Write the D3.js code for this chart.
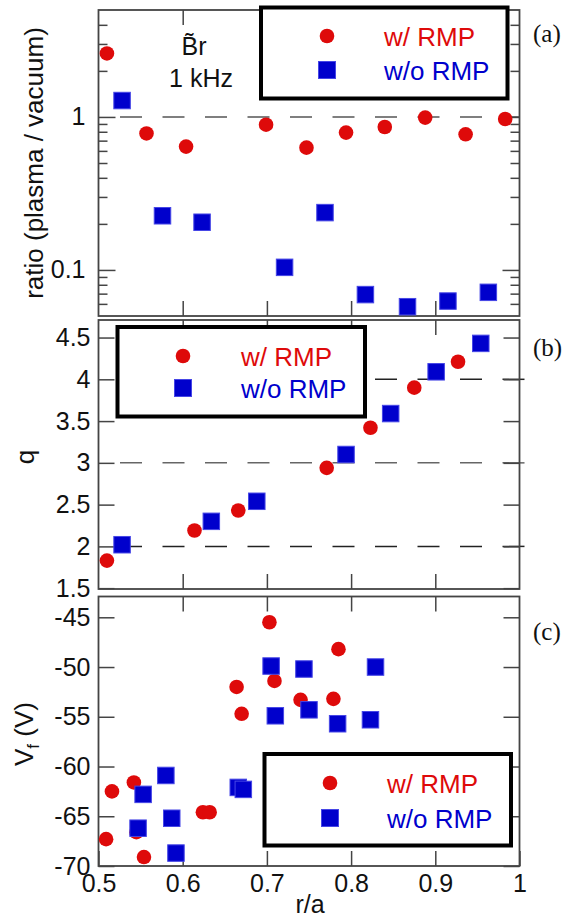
<!DOCTYPE html>
<html>
<head>
<meta charset="utf-8">
<script src="https://cdn.jsdelivr.net/npm/d3@7.9.0/dist/d3.min.js"></script>
<style>
  body { margin: 0; background: #fff; }
  svg { display: block; font-family: "Liberation Sans", Arial, sans-serif; }
</style>
</head>
<body>
<div id="chart"></div>
<script>
// ---- data ----
// (a) Br ratio plasma/vacuum at 1 kHz
const ratioRmpX   = [0.510, 0.557, 0.604, 0.699, 0.747, 0.794, 0.840, 0.888, 0.936, 0.983];
const ratioRmpY   = [2.6, 0.78, 0.64, 0.89, 0.63, 0.79, 0.86, 0.99, 0.77, 0.97];
const ratioNoRmpX = [0.528, 0.576, 0.623, 0.721, 0.769, 0.817, 0.867, 0.915, 0.963];
const ratioNoRmpY = [1.28, 0.226, 0.205, 0.104, 0.237, 0.069, 0.0575, 0.0626, 0.0714];

// (b) safety factor q
const qRmpX   = [0.510, 0.614, 0.666, 0.771, 0.823, 0.875, 0.927];
const qRmpY   = [1.83, 2.19, 2.43, 2.94, 3.42, 3.90, 4.21];
const qNoRmpX = [0.528, 0.634, 0.688, 0.794, 0.847, 0.901, 0.954];
const qNoRmpY = [2.02, 2.30, 2.54, 3.10, 3.59, 4.09, 4.43];

// (c) floating potential Vf
const vfRmpX   = [0.509, 0.516, 0.542, 0.545, 0.554, 0.624, 0.632, 0.664, 0.670, 0.703, 0.709, 0.740, 0.779, 0.785];
const vfRmpY   = [-67.3, -62.5, -61.6, -66.6, -69.1, -64.6, -64.6, -52.0, -54.7, -45.5, -51.4, -53.3, -53.2, -48.2];
const vfNoRmpX = [0.547, 0.553, 0.580, 0.587, 0.592, 0.666, 0.672, 0.705, 0.710, 0.744, 0.750, 0.784, 0.823, 0.829];
const vfNoRmpY = [-66.2, -62.8, -60.9, -65.2, -68.7, -62.1, -62.3, -49.9, -54.9, -50.2, -54.3, -55.7, -55.3, -50.0];

const xTicks = [0.5, 0.6, 0.7, 0.8, 0.9, 1];
const ratioMajor = [0.1, 1];
const ratioMinor = [0.06, 0.07, 0.08, 0.09, 0.2, 0.3, 0.4, 0.5, 0.6, 0.7, 0.8, 0.9, 2, 3, 4];
const qTicks = [1.5, 2, 2.5, 3, 3.5, 4, 4.5];
const qDashed = [2, 3, 4];
const vfTicks = [-70, -65, -60, -55, -50, -45];

const RED = '#de0a0a';
const BLUE = '#0000cc';
const AXIS = '#444';

const width = 572, height = 919;
const svg = d3.select('#chart').append('svg')
  .attr('width', width).attr('height', height);

const x = d3.scaleLinear().domain([0.5, 1]).range([98.5, 519.5]);

const panels = [
  { key: 'a', top: 10, bottom: 316, y: d3.scaleLog().domain([0.05, 5]).range([316, 10]) },
  { key: 'b', top: 320, bottom: 589, y: d3.scaleLinear().domain([1.49, 4.71]).range([589, 320]) },
  { key: 'c', top: 596.5, bottom: 866, y: d3.scaleLinear().domain([-70, -42.91]).range([866, 596.5]) },
];

// plain hyphen minus like the original, not the unicode minus
const fmt = d => String(d);

function styleAxis(g) {
  g.select('.domain').remove();
  g.selectAll('.tick line').attr('stroke', AXIS).attr('stroke-width', 1.5);
  g.selectAll('.tick text').attr('fill', '#111').style('font-size', '25px')
    .style('font-family', '"Liberation Sans", Arial, sans-serif');
}

function drawFrame(p) {
  // x ticks on top and bottom
  svg.append('g').attr('transform', `translate(0,${p.bottom})`)
    .call(d3.axisBottom(x).tickValues(p.key === 'c' ? xTicks : [0.6, 0.7, 0.8, 0.9])
      .tickSize(-15).tickPadding(8).tickFormat(p.key === 'c' ? fmt : ''))
    .call(styleAxis);
  svg.append('g').attr('transform', `translate(0,${p.top})`)
    .call(d3.axisTop(x).tickValues([0.6, 0.7, 0.8, 0.9]).tickSize(-15).tickFormat(''))
    .call(styleAxis);
  svg.append('rect')
    .attr('x', x.range()[0]).attr('y', p.top)
    .attr('width', x.range()[1] - x.range()[0]).attr('height', p.bottom - p.top)
    .attr('fill', 'none').attr('stroke', AXIS).attr('stroke-width', 1.8);
}

function yAxes(p, values, size, label, pad) {
  svg.append('g').attr('transform', `translate(${x.range()[0]},0)`)
    .call(d3.axisLeft(p.y).tickValues(values).tickSize(-size).tickPadding(pad)
      .tickFormat(label ? fmt : ''))
    .call(styleAxis);
  svg.append('g').attr('transform', `translate(${x.range()[1]},0)`)
    .call(d3.axisRight(p.y).tickValues(values).tickSize(-size).tickFormat(''))
    .call(styleAxis);
}

function dashed(p, v, x0, x1, color) {
  svg.append('line')
    .attr('x1', x0).attr('x2', x1)
    .attr('y1', p.y(v)).attr('y2', p.y(v))
    .attr('stroke', color).attr('stroke-width', 1.5)
    .attr('stroke-dasharray', '22,20.5');
}

function points(p, xs, ys, kind) {
  const data = xs.map((d, i) => [d, ys[i]]);
  if (kind === 'circle') {
    svg.append('g').selectAll('circle').data(data).join('circle')
      .attr('cx', d => x(d[0])).attr('cy', d => p.y(d[1]))
      .attr('r', 7.3).attr('fill', RED);
  } else {
    const s = 16.5;
    svg.append('g').selectAll('rect').data(data).join('rect')
      .attr('x', d => x(d[0]) - s / 2).attr('y', d => p.y(d[1]) - s / 2)
      .attr('width', s).attr('height', s)
      .attr('fill', BLUE).attr('stroke', '#4646e6').attr('stroke-width', 1);
  }
}

function legend(bx, by, bw, bh, mx, tx, y1, y2) {
  svg.append('rect').attr('x', bx).attr('y', by).attr('width', bw).attr('height', bh)
    .attr('fill', '#fff').attr('stroke', '#000').attr('stroke-width', 4);
  svg.append('circle').attr('cx', mx).attr('cy', y1).attr('r', 7.3).attr('fill', RED);
  svg.append('rect').attr('x', mx - 8.5).attr('y', y2 - 8.5).attr('width', 17).attr('height', 17)
    .attr('fill', BLUE).attr('stroke', '#4646e6').attr('stroke-width', 1);
  svg.append('text').attr('x', tx).attr('y', y1 + 9.5).attr('fill', RED)
    .style('font-size', '26px').text('w/ RMP');
  svg.append('text').attr('x', tx).attr('y', y2 + 9.5).attr('fill', BLUE)
    .style('font-size', '26px').text('w/o RMP');
}

function panelLabel(txt, y) {
  svg.append('text').attr('x', 533).attr('y', y)
    .style('font-family', '"Liberation Serif", "Times New Roman", serif')
    .style('font-size', '25px').attr('fill', '#111').text(txt);
}

function yTitle(cx, cy) {
  return svg.append('text')
    .attr('transform', `translate(${cx},${cy}) rotate(-90)`)
    .attr('text-anchor', 'middle').attr('fill', '#111').style('font-size', '26px');
}

// ---- panel (a) ----
const pa = panels[0];
dashed(pa, 1, 120, 519.5, '#555');
yAxes(pa, ratioMajor, 17, true, 13);
yAxes(pa, ratioMinor, 9, false, 0);
drawFrame(pa);
legend(261, 7.5, 246.5, 91, 327, 384, 36, 70);
points(pa, ratioRmpX, ratioRmpY, 'circle');
points(pa, ratioNoRmpX, ratioNoRmpY, 'square');
svg.append('text').attr('x', 194).attr('y', 55).attr('text-anchor', 'middle')
  .attr('fill', '#111').style('font-size', '25px').text('B\u0303r');
svg.append('text').attr('x', 201).attr('y', 87).attr('text-anchor', 'middle')
  .attr('fill', '#111').style('font-size', '25px').text('1 kHz');
yTitle(43, 163).text('ratio (plasma / vacuum)');
panelLabel('(a)', 42);

// ---- panel (b) ----
const pb = panels[1];
qDashed.forEach(v => dashed(pb, v, 120, 526, v === 3 ? '#666' : '#222'));
yAxes(pb, qTicks, 16, true, 8);
drawFrame(pb);
legend(117.5, 327, 247.5, 89.5, 183, 241, 356, 388);
points(pb, qRmpX, qRmpY, 'circle');
points(pb, qNoRmpX, qNoRmpY, 'square');
yTitle(34, 457).text('q');
panelLabel('(b)', 356);

// ---- panel (c) ----
const pc = panels[2];
yAxes(pc, vfTicks, 16, true, 8);
drawFrame(pc);
points(pc, vfRmpX, vfRmpY, 'circle');
points(pc, vfNoRmpX, vfNoRmpY, 'square');
legend(264.5, 754, 246.5, 91.5, 330, 387, 783, 818);
const vt = yTitle(33, 734);
vt.append('tspan').text('V');
vt.append('tspan').attr('dy', 6).style('font-size', '17px').text('f');
vt.append('tspan').attr('dy', -6).text(' (V)');
panelLabel('(c)', 640);

svg.append('text').attr('x', 310).attr('y', 913).attr('text-anchor', 'middle')
  .attr('fill', '#111').style('font-size', '25px').text('r/a');
</script>
</body>
</html>
